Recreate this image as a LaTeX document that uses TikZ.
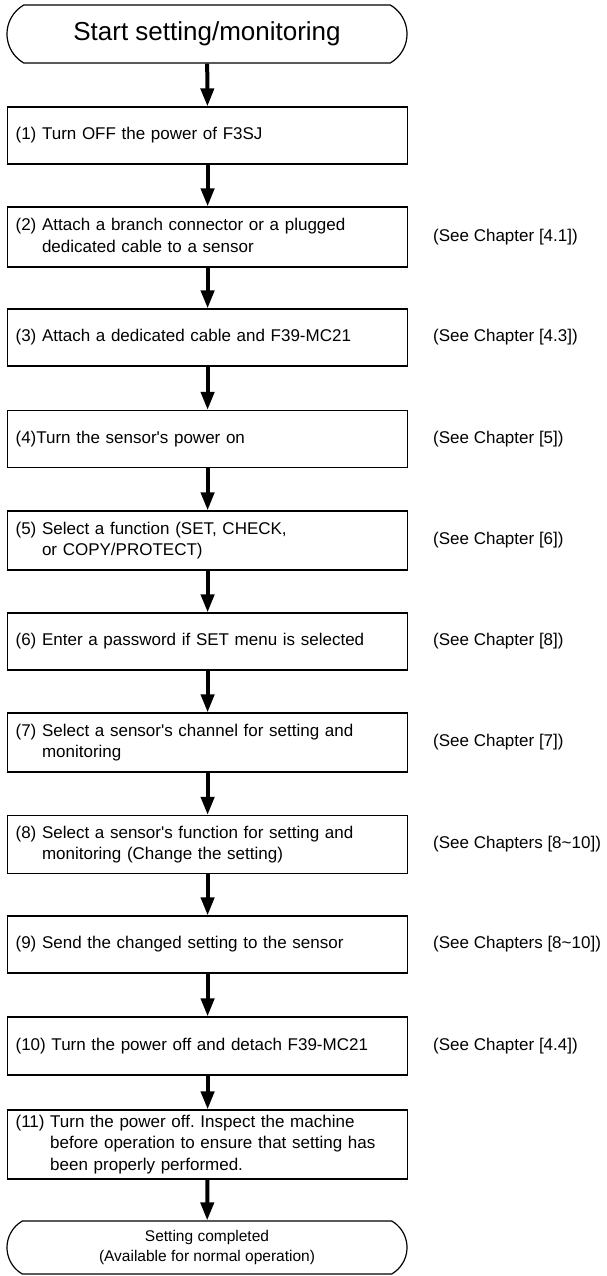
\documentclass[tikz,border=0pt]{standalone}
\usepackage{fontspec}
\setmainfont{Liberation Sans}
\usetikzlibrary{arrows.meta,shapes.misc}
\tikzset{
  stepbox/.style={draw,line width=1.2pt,rectangle,anchor=west,text width=384pt,
                  inner xsep=8pt,inner ysep=0pt,align=left,font=\fontsize{17}{21.5}\selectfont},
  termbox/.style={draw,line width=1.2pt,rounded rectangle,rounded rectangle arc length=120,
                  minimum width=400pt,inner sep=0pt,align=center},
  seeref/.style={anchor=west,inner sep=0pt,font=\fontsize{17}{21.5}\selectfont},
  flow/.style={line width=4pt,-{Triangle[length=18pt,width=13pt]}},
}
\newcommand{\sq}{\textquotesingle}
\frenchspacing

\begin{document}
\begin{tikzpicture}[x=1pt,y=-1pt]
  \useasboundingbox (0,0) rectangle (607,1276);
  % ===== start =====
  \node[termbox,minimum height=58pt,font=\fontsize{26}{30}\selectfont] (start) at (207,34){Start setting/monitoring};
  % ===== steps =====
  \node[stepbox,minimum height=57pt] (s1) at (7,135.5){(1) Turn OFF the power of F3SJ};
  \node[stepbox,minimum height=60pt] (s2) at (7,237){(2) Attach a branch connector or a plugged\\\phantom{(2) }dedicated cable to a sensor};
  \node[stepbox,minimum height=57pt] (s3) at (7,337.5){(3) Attach a dedicated cable and F39-MC21};
  \node[stepbox,minimum height=57pt] (s4) at (7,439){(4)Turn the sensor\sq s power on};
  \node[stepbox,minimum height=59pt] (s5) at (7,540.5){(5) Select a function (SET, CHECK,\\\phantom{(5) }or COPY/PROTECT)};
  \node[stepbox,minimum height=57pt] (s6) at (7,641.5){(6) Enter a password if SET menu is selected};
  \node[stepbox,minimum height=59pt] (s7) at (7,742.5){(7) Select a sensor\sq s channel for setting and\\\phantom{(7) }monitoring};
  \node[stepbox,minimum height=58pt] (s8) at (7,844.5){(8) Select a sensor\sq s function for setting and\\\phantom{(8) }monitoring (Change the setting)};
  \node[stepbox,minimum height=57pt] (s9) at (7,944.5){(9) Send the changed setting to the sensor};
  \node[stepbox,minimum height=58pt] (s10) at (7,1046){(10) Turn the power off and detach F39-MC21};
  \node[stepbox,minimum height=69pt] (s11) at (7,1144.5){(11) Turn the power off. Inspect the machine\\\phantom{(11) }before operation to ensure that setting has\\\phantom{(11) }been properly performed.};
  % ===== end =====
  \node[termbox,minimum height=53pt,font=\fontsize{15.5}{20}\selectfont] (done) at (207,1247.5){Setting completed\\(Available for normal operation)};
  % chapter references
  \node[seeref] (r2) at (433,237){(See Chapter [4.1])};
  \node[seeref] (r3) at (433,337.5){(See Chapter [4.3])};
  \node[seeref] (r4) at (433,439){(See Chapter [5])};
  \node[seeref] (r5) at (433,540.5){(See Chapter [6])};
  \node[seeref] (r6) at (433,641.5){(See Chapter [8])};
  \node[seeref] (r7) at (433,742.5){(See Chapter [7])};
  \node[seeref] (r8) at (433,844.5){(See Chapters [8\textasciitilde10])};
  \node[seeref] (r9) at (433,944.5){(See Chapters [8\textasciitilde10])};
  \node[seeref] (r10) at (433,1046){(See Chapter [4.4])};
  % arrows
  \foreach \a/\b in {start/s1,s1/s2,s2/s3,s3/s4,s4/s5,s5/s6,s6/s7,s7/s8,s8/s9,s9/s10,s10/s11,s11/done}
    \draw[flow] (\a) -- (\b);
\end{tikzpicture}
\end{document}
